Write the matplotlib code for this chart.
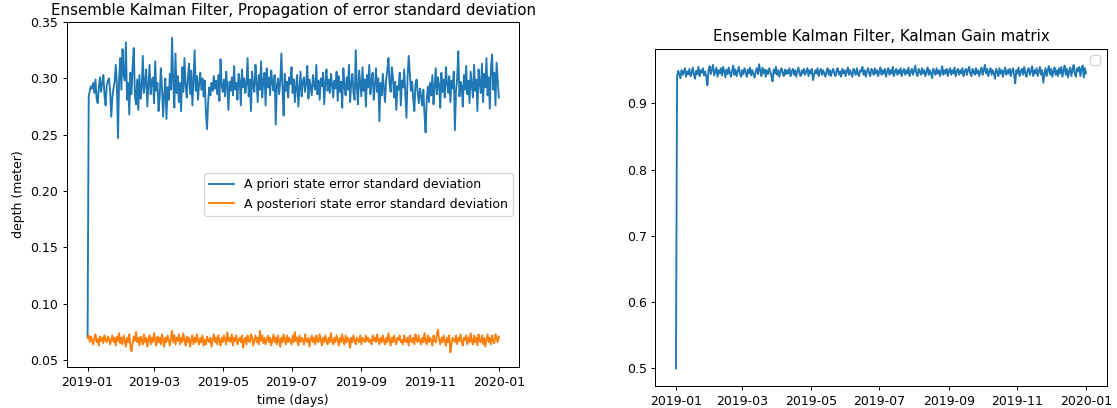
import numpy as np
import pandas as pd
import matplotlib
matplotlib.use('Agg')
import matplotlib.pyplot as plt

# daily dates, 2019-01-01 .. 2020-01-01
dates = pd.date_range('2019-01-01', periods=366, freq='D')

# a priori state error std
prior_std = [
    0.070, 0.284, 0.289, 0.293, 0.291, 0.296, 0.287, 0.299, 0.282, 0.278, 0.292, 0.301, 0.288, 0.296, 0.303, 0.285, 0.276, 0.294, 0.298, 0.300,
    0.289, 0.266, 0.283, 0.291, 0.297, 0.312, 0.295, 0.247, 0.300, 0.318, 0.290, 0.326, 0.304, 0.298, 0.332, 0.281, 0.296, 0.268, 0.305, 0.286,
    0.311, 0.327, 0.284, 0.277, 0.299, 0.272, 0.303, 0.282, 0.291, 0.320, 0.287, 0.296, 0.308, 0.275, 0.293, 0.312, 0.286, 0.298, 0.301, 0.278,
    0.315, 0.289, 0.296, 0.271, 0.284, 0.309, 0.293, 0.266, 0.285, 0.300, 0.264, 0.292, 0.281, 0.304, 0.290, 0.336, 0.296, 0.274, 0.322, 0.287,
    0.302, 0.279, 0.296, 0.271, 0.310, 0.288, 0.318, 0.294, 0.283, 0.300, 0.313, 0.286, 0.307, 0.276, 0.298, 0.325, 0.289, 0.302, 0.281, 0.296,
    0.305, 0.290, 0.300, 0.284, 0.298, 0.270, 0.255, 0.279, 0.292, 0.285, 0.296, 0.289, 0.302, 0.291, 0.298, 0.286, 0.303, 0.280, 0.317, 0.294,
    0.288, 0.299, 0.284, 0.306, 0.293, 0.272, 0.297, 0.289, 0.301, 0.285, 0.311, 0.290, 0.296, 0.281, 0.304, 0.298, 0.276, 0.308, 0.292, 0.300,
    0.287, 0.295, 0.318, 0.284, 0.299, 0.271, 0.306, 0.293, 0.288, 0.312, 0.297, 0.279, 0.303, 0.290, 0.315, 0.283, 0.298, 0.305, 0.276, 0.309,
    0.292, 0.301, 0.285, 0.307, 0.296, 0.289, 0.303, 0.259, 0.294, 0.300, 0.286, 0.298, 0.322, 0.291, 0.267, 0.304, 0.289, 0.297, 0.283, 0.301,
    0.295, 0.310, 0.287, 0.299, 0.279, 0.293, 0.303, 0.275, 0.290, 0.306, 0.284, 0.297, 0.301, 0.288, 0.296, 0.311, 0.282, 0.299, 0.292, 0.285,
    0.303, 0.294, 0.290, 0.312, 0.286, 0.298, 0.281, 0.300, 0.293, 0.305, 0.277, 0.296, 0.308, 0.289, 0.299, 0.287, 0.304, 0.295, 0.283, 0.298,
    0.291, 0.306, 0.280, 0.302, 0.288, 0.297, 0.274, 0.309, 0.293, 0.285, 0.301, 0.290, 0.312, 0.279, 0.296, 0.304, 0.287, 0.281, 0.325, 0.292,
    0.277, 0.307, 0.295, 0.284, 0.310, 0.289, 0.299, 0.275, 0.303, 0.292, 0.312, 0.286, 0.298, 0.305, 0.281, 0.294, 0.309, 0.288, 0.300, 0.262,
    0.296, 0.285, 0.304, 0.291, 0.279, 0.299, 0.307, 0.318, 0.295, 0.288, 0.310, 0.301, 0.283, 0.297, 0.272, 0.293, 0.290, 0.305, 0.276, 0.298,
    0.292, 0.308, 0.286, 0.265, 0.301, 0.320, 0.304, 0.289, 0.297, 0.282, 0.271, 0.295, 0.299, 0.287, 0.278, 0.291, 0.284, 0.276, 0.290, 0.268,
    0.252, 0.281, 0.293, 0.279, 0.296, 0.285, 0.303, 0.277, 0.292, 0.309, 0.286, 0.301, 0.294, 0.274, 0.305, 0.288, 0.299, 0.283, 0.310, 0.296,
    0.287, 0.302, 0.279, 0.298, 0.291, 0.306, 0.254, 0.289, 0.300, 0.324, 0.284, 0.297, 0.293, 0.275, 0.303, 0.290, 0.311, 0.286, 0.298, 0.278,
    0.306, 0.294, 0.283, 0.312, 0.289, 0.299, 0.271, 0.308, 0.296, 0.287, 0.313, 0.279, 0.304, 0.292, 0.318, 0.285, 0.301, 0.273, 0.309, 0.321,
    0.290, 0.305, 0.276, 0.314, 0.298, 0.283,
]

# a posteriori state error std
post_std = [
    0.070, 0.072, 0.066, 0.071, 0.068, 0.064, 0.070, 0.073, 0.066, 0.069, 0.063, 0.071, 0.067, 0.070, 0.065, 0.072, 0.068, 0.066, 0.071, 0.069,
    0.064, 0.068, 0.072, 0.066, 0.070, 0.063, 0.071, 0.067, 0.074, 0.065, 0.070, 0.064, 0.072, 0.067, 0.062, 0.070, 0.066, 0.073, 0.062, 0.058,
    0.065, 0.071, 0.067, 0.075, 0.066, 0.070, 0.063, 0.071, 0.068, 0.064, 0.073, 0.066, 0.070, 0.062, 0.068, 0.072, 0.064, 0.070, 0.066, 0.074,
    0.068, 0.063, 0.071, 0.066, 0.070, 0.064, 0.073, 0.067, 0.062, 0.070, 0.066, 0.072, 0.068, 0.063, 0.070, 0.076, 0.066, 0.072, 0.064, 0.070,
    0.067, 0.073, 0.064, 0.070, 0.066, 0.074, 0.068, 0.063, 0.071, 0.066, 0.070, 0.062, 0.068, 0.072, 0.064, 0.070, 0.066, 0.073, 0.067, 0.064,
    0.070, 0.066, 0.072, 0.063, 0.068, 0.064, 0.071, 0.067, 0.066, 0.070, 0.062, 0.068, 0.073, 0.066, 0.070, 0.064, 0.072, 0.067, 0.063, 0.070,
    0.066, 0.072, 0.068, 0.064, 0.075, 0.067, 0.070, 0.066, 0.073, 0.063, 0.070, 0.067, 0.072, 0.064, 0.068, 0.070, 0.066, 0.072, 0.061, 0.068,
    0.070, 0.064, 0.072, 0.067, 0.066, 0.073, 0.070, 0.063, 0.068, 0.072, 0.066, 0.070, 0.064, 0.076, 0.067, 0.072, 0.065, 0.070, 0.064, 0.068,
    0.072, 0.066, 0.070, 0.063, 0.068, 0.073, 0.066, 0.070, 0.064, 0.072, 0.067, 0.062, 0.070, 0.066, 0.073, 0.068, 0.064, 0.072, 0.066, 0.070,
    0.067, 0.064, 0.072, 0.066, 0.075, 0.067, 0.070, 0.063, 0.072, 0.066, 0.070, 0.068, 0.064, 0.073, 0.067, 0.066, 0.070, 0.062, 0.068, 0.072,
    0.066, 0.070, 0.064, 0.072, 0.067, 0.066, 0.073, 0.068, 0.063, 0.070, 0.066, 0.072, 0.067, 0.064, 0.070, 0.066, 0.074, 0.067, 0.064, 0.070,
    0.066, 0.072, 0.068, 0.063, 0.070, 0.066, 0.073, 0.067, 0.064, 0.072, 0.066, 0.070, 0.068, 0.061, 0.070, 0.066, 0.072, 0.067, 0.064, 0.070,
    0.068, 0.066, 0.072, 0.064, 0.070, 0.068, 0.066, 0.072, 0.067, 0.070, 0.066, 0.068, 0.064, 0.072, 0.067, 0.070, 0.066, 0.073, 0.068, 0.064,
    0.070, 0.066, 0.072, 0.067, 0.064, 0.070, 0.066, 0.074, 0.068, 0.063, 0.070, 0.066, 0.072, 0.067, 0.064, 0.070, 0.068, 0.072, 0.066, 0.068,
    0.064, 0.072, 0.067, 0.066, 0.070, 0.063, 0.072, 0.067, 0.066, 0.070, 0.064, 0.073, 0.068, 0.066, 0.072, 0.067, 0.064, 0.070, 0.066, 0.074,
    0.067, 0.064, 0.072, 0.066, 0.070, 0.068, 0.063, 0.072, 0.067, 0.066, 0.073, 0.077, 0.068, 0.064, 0.070, 0.066, 0.072, 0.067, 0.063, 0.070,
    0.066, 0.072, 0.057, 0.064, 0.070, 0.068, 0.066, 0.072, 0.064, 0.070, 0.067, 0.073, 0.066, 0.063, 0.070, 0.068, 0.072, 0.064, 0.070, 0.066,
    0.074, 0.067, 0.064, 0.072, 0.066, 0.070, 0.063, 0.073, 0.067, 0.066, 0.072, 0.064, 0.070, 0.062, 0.068, 0.073, 0.066, 0.070, 0.064, 0.072,
    0.067, 0.065, 0.073, 0.070, 0.066, 0.071,
]

# Kalman gain
gain = [
    0.500, 0.941, 0.949, 0.944, 0.938, 0.950, 0.943, 0.947, 0.953, 0.940, 0.948, 0.944, 0.952, 0.941, 0.946, 0.954, 0.943, 0.937, 0.949, 0.944,
    0.955, 0.941, 0.950, 0.946, 0.953, 0.942, 0.948, 0.939, 0.927, 0.950, 0.956, 0.944, 0.951, 0.958, 0.942, 0.948, 0.954, 0.940, 0.950, 0.945,
    0.953, 0.942, 0.955, 0.948, 0.939, 0.951, 0.944, 0.954, 0.946, 0.940, 0.950, 0.957, 0.943, 0.951, 0.941, 0.948, 0.955, 0.945, 0.940, 0.950,
    0.944, 0.953, 0.947, 0.940, 0.951, 0.945, 0.954, 0.942, 0.950, 0.944, 0.939, 0.948, 0.953, 0.944, 0.959, 0.949, 0.941, 0.954, 0.945, 0.951,
    0.940, 0.950, 0.944, 0.953, 0.947, 0.941, 0.933, 0.951, 0.945, 0.955, 0.943, 0.950, 0.940, 0.948, 0.953, 0.945, 0.941, 0.951, 0.944, 0.950,
    0.945, 0.953, 0.941, 0.948, 0.952, 0.943, 0.950, 0.940, 0.948, 0.954, 0.945, 0.941, 0.950, 0.945, 0.952, 0.943, 0.948, 0.953, 0.941, 0.950,
    0.945, 0.952, 0.935, 0.943, 0.950, 0.945, 0.953, 0.941, 0.948, 0.952, 0.943, 0.950, 0.945, 0.940, 0.948, 0.953, 0.943, 0.950, 0.941, 0.948,
    0.952, 0.945, 0.941, 0.950, 0.953, 0.943, 0.948, 0.940, 0.952, 0.945, 0.950, 0.941, 0.948, 0.954, 0.943, 0.950, 0.945, 0.940, 0.952, 0.948,
    0.943, 0.953, 0.945, 0.941, 0.950, 0.948, 0.955, 0.943, 0.950, 0.940, 0.948, 0.953, 0.945, 0.941, 0.952, 0.948, 0.943, 0.953, 0.945, 0.950,
    0.941, 0.948, 0.954, 0.943, 0.950, 0.945, 0.952, 0.940, 0.948, 0.953, 0.943, 0.950, 0.945, 0.955, 0.941, 0.948, 0.952, 0.943, 0.950, 0.945,
    0.953, 0.941, 0.948, 0.952, 0.943, 0.950, 0.945, 0.954, 0.941, 0.948, 0.952, 0.943, 0.950, 0.957, 0.945, 0.941, 0.952, 0.948, 0.943, 0.953,
    0.945, 0.950, 0.941, 0.948, 0.954, 0.943, 0.950, 0.945, 0.938, 0.952, 0.948, 0.943, 0.953, 0.945, 0.950, 0.941, 0.948, 0.956, 0.943, 0.950,
    0.945, 0.952, 0.941, 0.948, 0.953, 0.943, 0.950, 0.945, 0.954, 0.941, 0.948, 0.952, 0.943, 0.950, 0.945, 0.953, 0.941, 0.948, 0.952, 0.943,
    0.950, 0.955, 0.945, 0.941, 0.952, 0.948, 0.943, 0.953, 0.945, 0.950, 0.941, 0.948, 0.954, 0.943, 0.950, 0.958, 0.945, 0.952, 0.941, 0.948,
    0.953, 0.943, 0.950, 0.945, 0.937, 0.952, 0.948, 0.941, 0.953, 0.945, 0.950, 0.940, 0.948, 0.954, 0.943, 0.950, 0.945, 0.952, 0.941, 0.948,
    0.953, 0.943, 0.930, 0.950, 0.945, 0.954, 0.941, 0.948, 0.952, 0.943, 0.955, 0.945, 0.940, 0.950, 0.953, 0.943, 0.948, 0.956, 0.941, 0.950,
    0.945, 0.953, 0.941, 0.948, 0.955, 0.943, 0.950, 0.931, 0.945, 0.953, 0.941, 0.950, 0.956, 0.943, 0.952, 0.940, 0.948, 0.954, 0.943, 0.950,
    0.941, 0.953, 0.945, 0.955, 0.940, 0.950, 0.957, 0.943, 0.952, 0.939, 0.948, 0.954, 0.941, 0.950, 0.958, 0.945, 0.940, 0.953, 0.948, 0.955,
    0.941, 0.952, 0.957, 0.939, 0.953, 0.945,
]

# the reference looks like a 100 dpi figure shown at ~0.9 scale
fig = plt.figure(figsize=(1117 / 90, 408 / 90), dpi=90)

# left: propagation of the error std
ax1 = fig.add_axes([0.060, 0.100, 0.405, 0.846])
ax1.plot(dates, prior_std, label='A priori state error standard deviation')
ax1.plot(dates, post_std, label='A posteriori state error standard deviation')
ax1.set_ylim(0.0438, 0.350)
ax1.set_title('Ensemble Kalman Filter, Propagation of error standard deviation')
ax1.set_xlabel('time (days)')
ax1.set_ylabel('depth (meter)')
ax1.legend(loc='center right')

# right: Kalman gain
ax2 = fig.add_axes([0.5868, 0.053, 0.4038, 0.827])
ax2.plot(dates, gain)
ax2.set_ylim(0.473, 0.982)
ax2.set_title('Ensemble Kalman Filter, Kalman Gain matrix')
ax2.legend(loc='upper right')

fig.savefig('out.png', dpi=90)
